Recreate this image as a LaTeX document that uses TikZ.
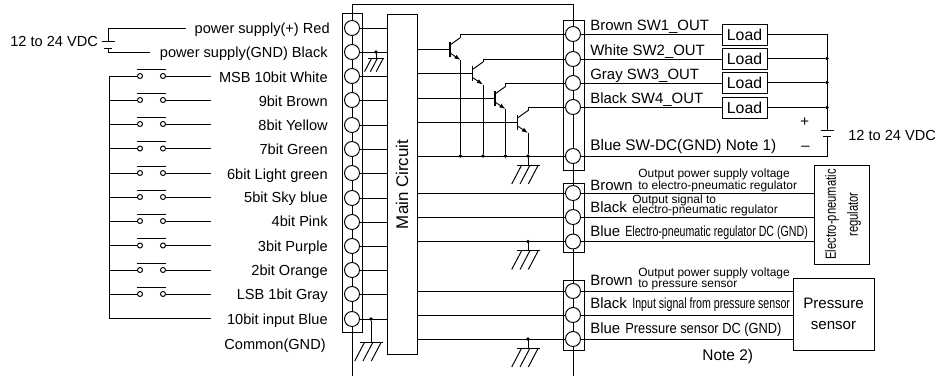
\documentclass[tikz,border=0pt]{standalone}
\usepackage{fontspec}
\setmainfont{Liberation Sans}
\usetikzlibrary{arrows.meta}

\newcommand{\lfont}{\fontsize{8.3}{10}\selectfont}
\newcommand{\rfont}{\fontsize{8.5}{10}\selectfont}
\newcommand{\sfont}{\fontsize{6.8}{8}\selectfont}
\newcommand{\cfont}{\fontsize{8.4}{12.5}\selectfont}

\tikzset{
  wire/.style={line width=.55pt},
  lab/.style={anchor=base east, inner sep=0pt, font=\lfont},
  rlab/.style={anchor=base west, inner sep=0pt, font=\rfont},
  small/.style={anchor=base west, inner sep=0pt, font=\sfont},
  narrow/.style={anchor=base west, inner sep=0pt, font=\cfont},
  term/.style={circle, draw, wire, fill=white, inner sep=0pt, minimum size=.3cm},
  block/.style={rectangle, draw, wire, inner sep=0pt},
  loadbox/.style={block, minimum width=.9cm, minimum height=.42cm, font=\fontsize{9}{10}\selectfont},
  jdot/.style={circle, fill, inner sep=0pt, minimum size=2.2pt},
  contact/.style={circle, draw, wire, inner sep=0pt, minimum size=.1cm},
  gnd/.pic={
    \draw[wire] (0,0) -- (0,9);
    \draw[wire] (-11.5,9) -- (11.5,9);
    \draw[wire] (-6.3,9) -- (-16.3,28);
    \draw[wire] (2,9) -- (-8,28);
    \draw[wire] (10.3,9) -- (.3,28);
  },
  batt/.pic={
    \coordinate (-p) at (0,0);
    \coordinate (-n) at (0,6.5);
    \draw[wire] (-6.5,0) -- (6.5,0);
    \draw[wire] (-4,6.5) -- (4,6.5);
  },
  npn/.pic={
    \coordinate (-c) at (10.5,-11.5);
    \coordinate (-e) at (10.5,11);
    \draw[line width=1pt] (0,-7.5) -- (0,7.5);
    \draw[wire] (0,-4) -- (-c);
    \draw[wire, -{Latex[length=3.5pt,width=2.5pt]}] (0,4) -- (-e);
  },
  swt/.pic={
    \node[contact] (-a) at (-11.5,0) {};
    \node[contact] (-b) at (11.5,0) {};
    \draw[wire] (-15,-7) -- (14.5,-7);
  }
}

\begin{document}
\begin{tikzpicture}[x=.02cm, y=-.02cm]
\useasboundingbox (0,0) rectangle (936,376);

\node[block, minimum width=.4cm, minimum height=6.4cm] (BL) at (352,173) {};
\node[block, minimum width=.6cm, minimum height=6.82cm] (Main) at (402,184.5) {\rotatebox{90}{\fontsize{9.6}{11}\selectfont Main Circuit}};
\node[block, minimum width=.42cm, minimum height=3cm] (BR1) at (573.5,95) {};
\node[block, minimum width=.42cm, minimum height=1.38cm] (BR2) at (573.5,217.5) {};
\node[block, minimum width=.42cm, minimum height=1.4cm] (BR3) at (573.5,315) {};
\node[block, minimum width=1.1cm, minimum height=1.98cm] (Reg) at (841.5,214.5) {\hspace{.04cm}\rotatebox{90}{\scalebox{.76}[1]{\cfont\begin{tabular}{@{}c@{}}Electro-pneumatic\\regulator\end{tabular}}}};
\node[block, minimum width=1.62cm, minimum height=1.44cm, align=center, font=\fontsize{8.6}{12}\selectfont] (Sen) at (833.5,314) {Pressure\hspace{.08cm}\\sensor\hspace{.08cm}};

\node[term] (L1)  at (352,28)  {};
\node[term] (L2)  at (352,52)  {};
\node[term] (L3)  at (352,76)  {};
\node[term] (L4)  at (352,100) {};
\node[term] (L5)  at (352,125) {};
\node[term] (L6)  at (352,149) {};
\node[term] (L7)  at (352,173) {};
\node[term] (L8)  at (352,198) {};
\node[term] (L9)  at (352,222) {};
\node[term] (L10) at (352,246) {};
\node[term] (L11) at (352,270) {};
\node[term] (L12) at (352,294) {};
\node[term] (L13) at (352,319) {};

\node[term] (R1)  at (573,34)  {};
\node[term] (R2)  at (573,59)  {};
\node[term] (R3)  at (573,83)  {};
\node[term] (R4)  at (573,107) {};
\node[term] (R5)  at (573,156) {};
\node[term] (R6)  at (573,193) {};
\node[term] (R7)  at (573,217) {};
\node[term] (R8)  at (573,241.5) {};
\node[term] (R9)  at (573,291) {};
\node[term] (R10) at (573,315) {};
\node[term] (R11) at (573,339) {};

\coordinate (TL) at (352,4);
\coordinate (TR) at (573,4);
\coordinate (EL) at (352,376);
\coordinate (ER) at (573,376);

\draw[wire] (TR) -- (TL) -- (L1) -- (L2) -- (L3) -- (L4) -- (L5) -- (L6) -- (L7) -- (L8) -- (L9) -- (L10) -- (L11) -- (L12) -- (L13) -- (EL);
\draw[wire] (TR) -- (R1) -- (R2) -- (R3) -- (R4) -- (R5) -- (R6) -- (R7) -- (R8) -- (R9) -- (R10) -- (R11) -- (ER);

\draw[wire] (L1) -- (L1 -| Main.west);
\draw[wire] (L2) -- (L2 -| Main.west);
\draw[wire] (L3) -- (L3 -| Main.west);
\draw[wire] (L4) -- (L4 -| Main.west);
\draw[wire] (L5) -- (L5 -| Main.west);
\draw[wire] (L6) -- (L6 -| Main.west);
\draw[wire] (L7) -- (L7 -| Main.west);
\draw[wire] (L8) -- (L8 -| Main.west);
\draw[wire] (L9) -- (L9 -| Main.west);
\draw[wire] (L10) -- (L10 -| Main.west);
\draw[wire] (L11) -- (L11 -| Main.west);
\draw[wire] (L12) -- (L12 -| Main.west);
\draw[wire] (L13) -- (L13 -| Main.west);

\node[jdot] (J1) at (376,52) {};
\pic[scale=.7] (G1) at (376,52) {gnd};
\node[jdot] (J2) at (371,319) {};
\coordinate (G2top) at (371,333);
\draw[wire] (J2) -- (G2top);
\pic (G2) at (G2top) {gnd};

\pic (Q1) at (450,49) {npn};
\pic (Q2) at (472.5,73.5) {npn};
\pic (Q3) at (495,98) {npn};
\pic (Q4) at (517.5,122) {npn};
\coordinate (Q1b) at (450,49);
\coordinate (Q2b) at (472.5,73.5);
\coordinate (Q3b) at (495,98);
\coordinate (Q4b) at (517.5,122);
\draw[wire] (Q1b -| Main.east) -- (Q1b);
\draw[wire] (Q2b -| Main.east) -- (Q2b);
\draw[wire] (Q3b -| Main.east) -- (Q3b);
\draw[wire] (Q4b -| Main.east) -- (Q4b);

\node[loadbox] (D1) at (744.5,34.5)  {Load};
\node[loadbox] (D2) at (744.5,58.5)  {Load};
\node[loadbox] (D3) at (744.5,82.5)  {Load};
\node[loadbox] (D4) at (744.5,107.5) {Load};

\draw[wire] (Q1-c) -- (Q1-c |- R1) -- (R1);
\draw[wire] (Q2-c) -- (Q2-c |- R2) -- (R2);
\draw[wire] (Q3-c) -- (Q3-c |- R3) -- (R3);
\draw[wire] (Q4-c) -- (Q4-c |- R4) -- (R4);
\draw[wire] (R1) -- (R1 -| D1.west);
\draw[wire] (R2) -- (R2 -| D2.west);
\draw[wire] (R3) -- (R3 -| D3.west);
\draw[wire] (R4) -- (R4 -| D4.west);

\node[jdot] (J3) at (Q1-e |- R5) {};
\node[jdot] (J4) at (Q2-e |- R5) {};
\node[jdot] (J5) at (Q3-e |- R5) {};
\node[jdot] (J6) at (Q4-e |- R5) {};
\draw[wire] (Q1-e) -- (J3);
\draw[wire] (Q2-e) -- (J4);
\draw[wire] (Q3-e) -- (J5);
\draw[wire] (Q4-e) -- (J6);
\pic (G3) at (J6) {gnd};

\coordinate (V1) at (827,34);
\coordinate (V5) at (827,156);
\pic (B1) at (827,130) {batt};
\node[jdot] (J7) at (V1 |- D2) {};
\node[jdot] (J8) at (V1 |- D3) {};
\node[jdot] (J9) at (V1 |- D4) {};
\draw[wire] (D1.east |- V1) -- (V1) -- (B1-p);
\draw[wire] (D2) -- (J7);
\draw[wire] (D3) -- (J8);
\draw[wire] (D4) -- (J9);
\draw[wire] (R5 -| Main.east) -- (R5);
\draw[wire] (R5) -- (V5) -- (B1-n);

\draw[wire] (R6 -| Main.east) -- (R6);
\draw[wire] (R7 -| Main.east) -- (R7);
\draw[wire] (R8 -| Main.east) -- (R8);
\draw[wire] (R9 -| Main.east) -- (R9);
\draw[wire] (R10 -| Main.east) -- (R10);
\draw[wire] (R11 -| Main.east) -- (R11);
\draw[wire] (R6) -- (R6 -| Reg.west);
\draw[wire] (R7) -- (R7 -| Reg.west);
\draw[wire] (R8) -- (R8 -| Reg.west);
\draw[wire] (R9) -- (R9 -| Sen.west);
\draw[wire] (R10) -- (R10 -| Sen.west);
\draw[wire] (R11) -- (R11 -| Sen.west);

\node[jdot] (J10) at (528,241.5) {};
\node[jdot] (J11) at (528,339) {};
\pic (G4) at (J10) {gnd};
\pic (G5) at (J11) {gnd};

\coordinate (PA) at (186,28);
\coordinate (PB) at (150,52);
\pic (B2) at (108,41.5) {batt};
\draw[wire] (PA) -- (B2-p |- PA) -- (B2-p);
\draw[wire] (PB) -- (B2-n |- PB) -- (B2-n);

\coordinate (Rail) at (109,76);
\coordinate (End) at (211,76);
\coordinate (In) at (211,318);
\pic (S1)  at (151.5,76)    {swt};
\pic (S2)  at (151.5,100)   {swt};
\pic (S3)  at (151.5,124)   {swt};
\pic (S4)  at (151.5,148.5) {swt};
\pic (S5)  at (151.5,173)   {swt};
\pic (S6)  at (151.5,197)   {swt};
\pic (S7)  at (151.5,221)   {swt};
\pic (S8)  at (151.5,245.5) {swt};
\pic (S9)  at (151.5,270)   {swt};
\pic (S10) at (151.5,294)   {swt};
\draw[wire] (S1-a -| Rail) -- (In -| Rail) -- (In);
\draw[wire] (S1-a -| Rail) -- (S1-a);
\draw[wire] (S2-a -| Rail) -- (S2-a);
\draw[wire] (S3-a -| Rail) -- (S3-a);
\draw[wire] (S4-a -| Rail) -- (S4-a);
\draw[wire] (S5-a -| Rail) -- (S5-a);
\draw[wire] (S6-a -| Rail) -- (S6-a);
\draw[wire] (S7-a -| Rail) -- (S7-a);
\draw[wire] (S8-a -| Rail) -- (S8-a);
\draw[wire] (S9-a -| Rail) -- (S9-a);
\draw[wire] (S10-a -| Rail) -- (S10-a);
\draw[wire] (S1-b) -- (S1-b -| End);
\draw[wire] (S2-b) -- (S2-b -| End);
\draw[wire] (S3-b) -- (S3-b -| End);
\draw[wire] (S4-b) -- (S4-b -| End);
\draw[wire] (S5-b) -- (S5-b -| End);
\draw[wire] (S6-b) -- (S6-b -| End);
\draw[wire] (S7-b) -- (S7-b -| End);
\draw[wire] (S8-b) -- (S8-b -| End);
\draw[wire] (S9-b) -- (S9-b -| End);
\draw[wire] (S10-b) -- (S10-b -| End);

\node[rlab, font=\lfont] (V2) at (10,46) {12 to 24 VDC};
\node[lab] (T1)  at (330,33)  {power supply(+) Red};
\node[lab] (T2)  at (328,57)  {power supply(GND) Black};
\node[lab] (T3)  at (328,82)  {MSB 10bit White};
\node[lab] (T4)  at (328,106) {9bit Brown};
\node[lab] (T5)  at (328,130) {8bit Yellow};
\node[lab] (T6)  at (328,154) {7bit Green};
\node[lab] (T7)  at (328,179) {6bit Light green};
\node[lab] (T8)  at (328,202) {5bit Sky blue};
\node[lab] (T9)  at (328,226) {4bit Pink};
\node[lab] (T10) at (328,251) {3bit Purple};
\node[lab] (T11) at (328,275) {2bit Orange};
\node[lab] (T12) at (328,299) {LSB 1bit Gray};
\node[lab] (T13) at (328,324) {10bit input Blue};
\node[lab] (T14) at (326,349) {Common(GND)};

\node[rlab] (U1) at (590,30)  {Brown SW1\_OUT};
\node[rlab] (U2) at (590,55)  {White SW2\_OUT};
\node[rlab] (U3) at (590,79)  {Gray SW3\_OUT};
\node[rlab] (U4) at (590,103) {Black SW4\_OUT};
\node[rlab, font=\fontsize{8.75}{10}\selectfont] (U5) at (590,150) {Blue SW-DC(GND) Note 1)};
\node[rlab, font=\lfont] (V3) at (848,140) {12 to 24 VDC};
\node[rlab] (Pl) at (800,126) {+};
\node[rlab] (Mi) at (801,150) {--};

\node[rlab] (U6) at (590,190) {Brown};
\node[rlab] (U7) at (590,212) {Black};
\node[rlab] (U8) at (590,236) {Blue};
\node[small] (N1) at (638,177) {Output power supply voltage};
\node[small] (N2) at (638,189) {to electro-pneumatic regulator};
\node[small] (N3) at (632,203) {Output signal to};
\node[small] (N4) at (632,213) {electro-pneumatic regulator};
\node[narrow] (N5) at (625,236) {\scalebox{.72}[1]{Electro-pneumatic regulator DC (GND)}};

\node[rlab] (U9)  at (590,285) {Brown};
\node[rlab] (U10) at (590,308) {Black};
\node[rlab] (U11) at (590,333) {Blue};
\node[small] (N6) at (638,276) {Output power supply voltage};
\node[small] (N7) at (638,287) {to pressure sensor};
\node[narrow] (N8) at (632,308) {\scalebox{.72}[1]{Input signal from pressure sensor}};
\node[rlab, font=\lfont] (N9) at (625,333) {\scalebox{.88}[1]{Pressure sensor DC (GND)}};
\node[rlab, font=\fontsize{8.8}{10}\selectfont] (N10) at (702,360) {Note 2)};
\end{tikzpicture}
\end{document}
